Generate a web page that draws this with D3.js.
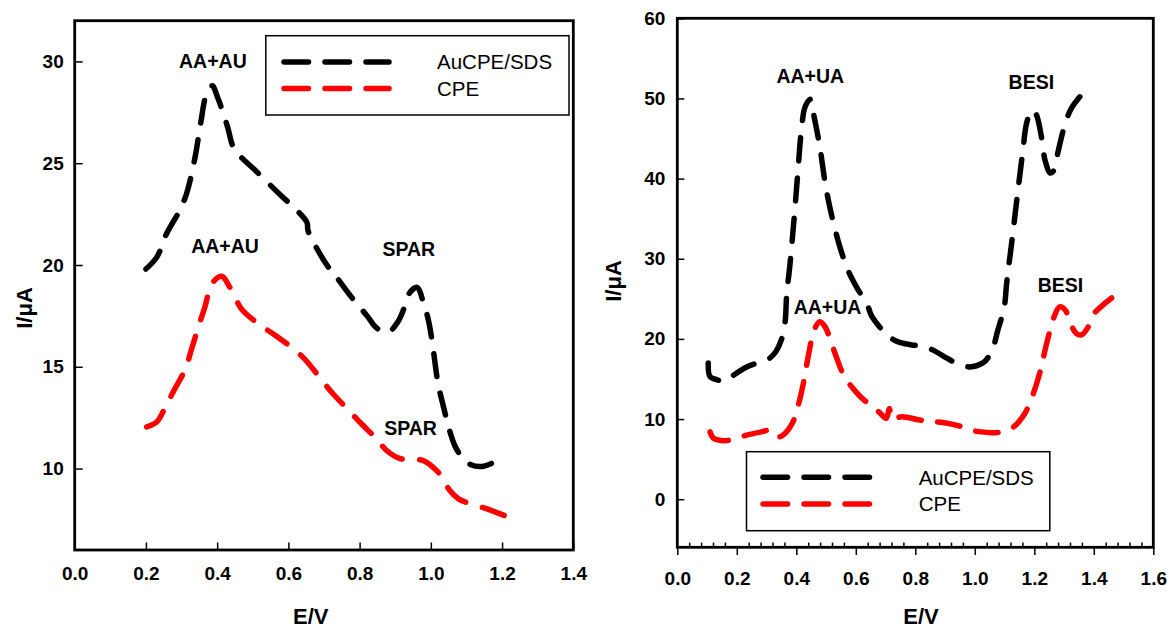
<!DOCTYPE html>
<html>
<head>
<meta charset="utf-8">
<script src="https://cdn.jsdelivr.net/npm/d3@7"></script>
<style>
  html, body { margin: 0; padding: 0; background: #fff; }
  svg { display: block; font-family: "Liberation Sans", Arial, Helvetica, sans-serif; }
</style>
</head>
<body>
<svg id="chart" width="1174" height="629"></svg>
<script>
// Differential pulse voltammograms: potential E (V) vs current I (µA)
// Left panel: AA+AU and SPAR oxidation peaks
const leftAuSDS = [
  [0.200,19.8],[0.231,20.4],[0.257,21.5],[0.295,22.7],[0.314,23.5],[0.338,25.3],[0.354,27.0],
  [0.370,28.4],[0.386,28.8],[0.402,28.2],[0.429,26.8],[0.445,25.8],[0.467,25.3],[0.504,24.7],
  [0.580,23.4],[0.623,22.7],[0.652,22.1],[0.655,21.7],[0.671,21.1],[0.708,20.0],[0.735,19.4],
  [0.778,18.4],[0.821,17.5],[0.848,16.9],[0.880,16.7],[0.907,17.2],[0.923,17.8],[0.939,18.6],
  [0.961,18.9],[0.980,18.1],[0.993,17.3],[1.004,16.2],[1.020,14.2],[1.036,13.0],[1.052,11.9],
  [1.068,11.1],[1.090,10.5],[1.111,10.2],[1.143,10.1],[1.170,10.25]
];
const leftCPE = [
  [0.202,12.05],[0.231,12.3],[0.254,13.0],[0.279,13.85],[0.311,14.9],[0.327,15.8],[0.349,17.05],
  [0.365,17.9],[0.386,19.1],[0.413,19.45],[0.434,18.95],[0.456,18.2],[0.470,17.8],[0.520,17.05],
  [0.563,16.55],[0.639,15.5],[0.698,14.25],[0.724,13.7],[0.778,12.7],[0.805,12.2],[0.848,11.45],
  [0.875,10.9],[0.912,10.5],[0.939,10.45],[0.977,10.4],[1.004,10.1],[1.031,9.6],[1.052,8.95],
  [1.079,8.5],[1.106,8.3],[1.143,8.1],[1.176,7.9],[1.206,7.7]
];
// Right panel: AA+UA and BESI oxidation peaks
const rightAuSDS = [
  [0.104,17.0],[0.110,15.3],[0.134,14.9],[0.159,14.7],[0.190,15.5],[0.233,16.5],[0.270,17.0],
  [0.307,17.5],[0.331,18.4],[0.350,19.9],[0.362,22.0],[0.368,25.7],[0.378,29.0],[0.393,35.2],
  [0.405,40.7],[0.417,46.0],[0.430,49.0],[0.448,49.9],[0.460,47.7],[0.479,44.0],[0.497,39.4],
  [0.510,36.9],[0.528,34.0],[0.553,30.7],[0.578,28.2],[0.602,26.5],[0.639,24.2],[0.654,22.8],
  [0.700,20.7],[0.737,19.7],[0.787,19.25],[0.824,19.1],[0.860,18.6],[0.897,17.8],[0.928,17.15],
  [0.959,16.7],[0.984,16.5],[1.027,17.0],[1.045,17.7],[1.064,19.2],[1.076,20.9],[1.088,22.4],
  [1.100,24.2],[1.107,26.9],[1.125,32.3],[1.144,38.2],[1.162,43.6],[1.174,46.9],[1.191,48.5],
  [1.205,48.1],[1.224,45.2],[1.236,42.3],[1.254,40.7],[1.267,41.1],[1.279,43.2],[1.298,46.1],
  [1.322,48.6],[1.353,50.2]
];
const rightCPE = [
  [0.110,8.4],[0.122,7.6],[0.159,7.3],[0.190,7.5],[0.233,8.0],[0.282,8.4],[0.319,8.65],
  [0.344,7.8],[0.362,8.2],[0.387,9.5],[0.405,11.5],[0.424,14.5],[0.442,18.2],[0.460,21.1],
  [0.479,22.15],[0.497,21.5],[0.516,19.7],[0.534,17.8],[0.559,15.5],[0.590,13.85],[0.627,12.4],
  [0.657,11.6],[0.680,10.8],[0.702,10.1],[0.713,11.3],[0.720,10.0],[0.755,10.3],[0.811,9.9],
  [0.848,9.7],[0.897,9.55],[0.947,9.15],[0.984,8.65],[1.021,8.4],[1.058,8.3],[1.094,8.4],
  [1.131,9.05],[1.168,10.7],[1.193,12.8],[1.218,15.7],[1.242,19.5],[1.267,22.8],[1.285,24.0],
  [1.304,23.6],[1.322,21.9],[1.341,20.7],[1.359,20.5],[1.378,21.3],[1.402,23.2],[1.433,24.3],
  [1.460,25.1]
];

const leftXTicks = [0.0, 0.2, 0.4, 0.6, 0.8, 1.0, 1.2, 1.4];
const leftYTicks = [10, 15, 20, 25, 30];
const rightXTicks = [0.0, 0.2, 0.4, 0.6, 0.8, 1.0, 1.2, 1.4, 1.6];
const rightYTicks = [0, 10, 20, 30, 40, 50, 60];

const seriesNames = ["AuCPE/SDS", "CPE"];
const seriesColors = ["#000000", "#ff0000"];

const leftPeaks = [
  { text: "AA+AU", E: 0.388, I: 30.0 },
  { text: "AA+AU", E: 0.422, I: 20.95 },
  { text: "SPAR", E: 0.938, I: 20.8 },
  { text: "SPAR", E: 0.943, I: 12.0 }
];
const rightPeaks = [
  { text: "AA+UA", E: 0.447, I: 52.8 },
  { text: "BESI", E: 1.190, I: 52.1 },
  { text: "AA+UA", E: 0.505, I: 24.0 },
  { text: "BESI", E: 1.288, I: 26.7 }
];

const svg = d3.select("#chart");
const lineWidth = 5.5;
const dashOn = 23, dashOff = 17;

// Stretch the dash pattern slightly so each curve starts and ends on a dash
function fitDashes(path) {
  const L = path.node().getTotalLength();
  const P = dashOn + dashOff;
  const n = Math.max(1, Math.round((L - dashOn) / P));
  const k = L / (n * P + dashOn);
  path.attr("stroke-dasharray", `${dashOn * k},${dashOff * k}`);
}

function panel(cfg) {
  const x = d3.scaleLinear().domain(cfg.xDomain).range([cfg.left, cfg.right]);
  const y = d3.scaleLinear().domain(cfg.yDomain).range([cfg.bottom, cfg.top]);
  const g = svg.append("g");

  // x axis (major ticks)
  const xAxis = d3.axisBottom(x).tickValues(cfg.xTicks).tickFormat(d3.format(".1f"))
    .tickSizeInner(cfg.xTickSize).tickSizeOuter(0).tickPadding(cfg.xPad);
  const gx = g.append("g").attr("transform", `translate(0,${cfg.bottom})`).call(xAxis);
  gx.select(".domain").remove();
  gx.selectAll(".tick line").attr("stroke", "#000").attr("stroke-width", 1.5);
  gx.selectAll(".tick text").attr("font-size", 19).attr("font-weight", "bold").attr("fill", "#000");

  // minor x ticks
  if (cfg.xMinor) {
    const gm = g.append("g").attr("transform", `translate(0,${cfg.bottom})`)
      .call(d3.axisBottom(x).tickValues(cfg.xMinor).tickFormat("").tickSizeInner(-4.7).tickSizeOuter(0));
    gm.select(".domain").remove();
    gm.selectAll(".tick line").attr("stroke", "#000").attr("stroke-width", 1.5);
  }

  // y axis
  const yAxis = d3.axisLeft(y).tickValues(cfg.yTicks).tickSizeInner(-cfg.yTickLen)
    .tickSizeOuter(0).tickPadding(cfg.yPad);
  const gy = g.append("g").attr("transform", `translate(${cfg.left},0)`).call(yAxis);
  gy.select(".domain").remove();
  gy.selectAll(".tick line").attr("stroke", "#000").attr("stroke-width", 1.5);
  gy.selectAll(".tick text").attr("font-size", 19).attr("font-weight", "bold").attr("fill", "#000");

  // frame
  g.append("rect").attr("x", cfg.left).attr("y", cfg.top)
    .attr("width", cfg.right - cfg.left).attr("height", cfg.bottom - cfg.top)
    .attr("fill", "none").attr("stroke", "#000").attr("stroke-width", 2.8);

  // curves
  const line = d3.line().x(d => x(d[0])).y(d => y(d[1])).curve(d3.curveCatmullRom.alpha(0.5));
  cfg.series.forEach((s, i) => {
    const p = g.append("path").datum(s).attr("d", line)
      .attr("fill", "none").attr("stroke", seriesColors[i])
      .attr("stroke-width", lineWidth).attr("stroke-linecap", "round").attr("stroke-linejoin", "round");
    fitDashes(p);
  });

  // peak labels
  g.selectAll("text.peak").data(cfg.peaks).join("text").attr("class", "peak")
    .attr("x", d => x(d.E)).attr("y", d => y(d.I)).attr("dy", "0.36em")
    .attr("text-anchor", "middle").attr("font-size", 19.5).attr("font-weight", "bold")
    .text(d => d.text);

  // axis titles
  g.append("text").attr("x", cfg.xTitle[0]).attr("y", cfg.xTitle[1]).attr("dy", "0.36em")
    .attr("text-anchor", "middle").attr("font-size", 22).attr("font-weight", "bold").text("E/V");
  g.append("text").attr("transform", `translate(${cfg.yTitle[0]},${cfg.yTitle[1]}) rotate(-90)`)
    .attr("dy", "0.36em").attr("text-anchor", "middle").attr("font-size", 22).attr("font-weight", "bold")
    .text("I/\u03bcA");

  // legend
  const L = cfg.legend;
  const lg = g.append("g");
  lg.append("rect").attr("x", L.x).attr("y", L.y).attr("width", L.w).attr("height", L.h)
    .attr("fill", "#fff").attr("stroke", "#000").attr("stroke-width", 1.5);
  seriesNames.forEach((name, i) => {
    const yy = L.rows[i];
    lg.append("line").attr("x1", L.lineX[0]).attr("x2", L.lineX[1]).attr("y1", yy).attr("y2", yy)
      .attr("stroke", seriesColors[i]).attr("stroke-width", lineWidth)
      .attr("stroke-linecap", "round").attr("stroke-dasharray", "24.5,16.5");
    lg.append("text").attr("x", L.textX).attr("y", yy).attr("dy", "0.36em")
      .attr("font-size", 20.5).attr("fill", "#000").text(name);
  });
}

panel({
  xDomain: [0, 1.4], yDomain: [6, 32],
  left: 74.7, right: 573.3, top: 20.7, bottom: 550,
  xTicks: leftXTicks, yTicks: leftYTicks,
  xTickSize: -7.5, xPad: 16.5, yTickLen: 8, yPad: 11,
  series: [leftAuSDS, leftCPE], peaks: leftPeaks,
  xTitle: [310.7, 616], yTitle: [24, 308],
  legend: { x: 265.8, y: 35.7, w: 303.2, h: 79.3, rows: [62, 88.5], lineX: [284, 389], textX: 437 }
});

const rightMinor = d3.range(0, 81).map(i => i * 0.02).filter((v, i) => i % 10 !== 0 && i % 2 === 0);

panel({
  xDomain: [0, 1.6], yDomain: [-6, 60],
  left: 677.3, right: 1153.3, top: 18.3, bottom: 547.3,
  xTicks: rightXTicks, xMinor: rightMinor, yTicks: rightYTicks,
  xTickSize: 7.7, xPad: 16.5, yTickLen: 7, yPad: 12,
  series: [rightAuSDS, rightCPE], peaks: rightPeaks,
  xTitle: [921, 616], yTitle: [613, 281],
  legend: { x: 746.5, y: 451.7, w: 303.3, h: 79, rows: [477.3, 504], lineX: [763, 870], textX: 918.7 }
});
</script>
</body>
</html>
